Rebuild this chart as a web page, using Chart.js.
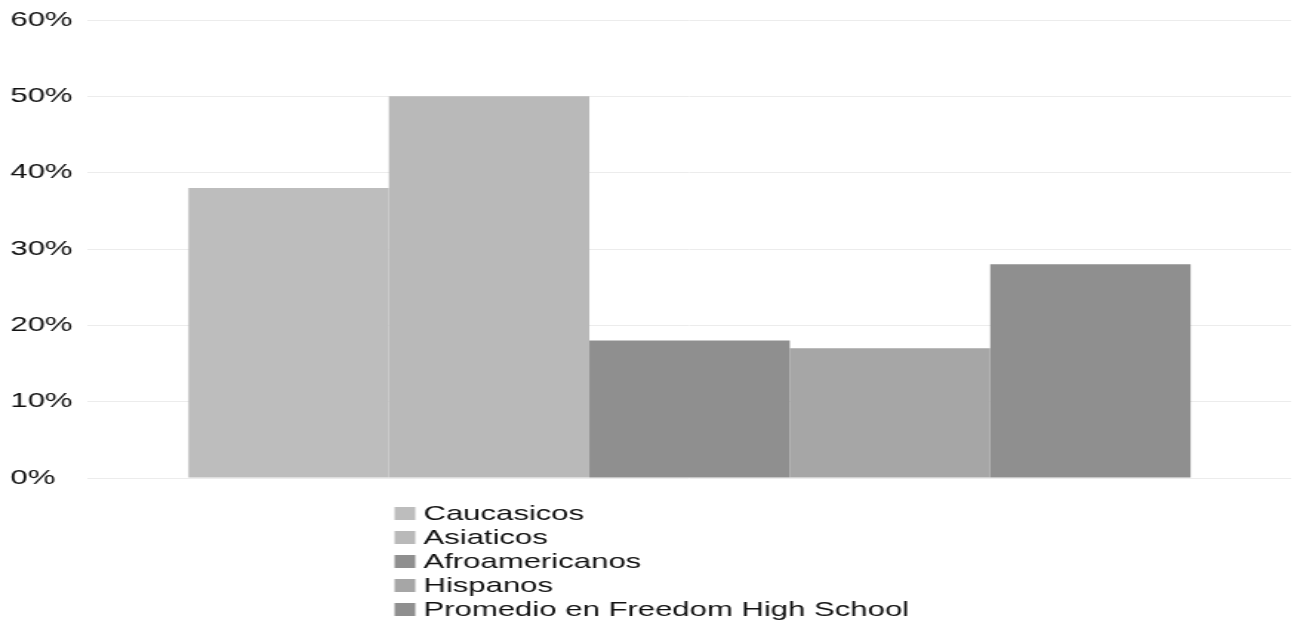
<!DOCTYPE html>
<html>
<head>
<meta charset="utf-8">
<script src="https://cdn.jsdelivr.net/npm/chart.js@4/dist/chart.umd.min.js"></script>
<style>
  html, body { margin: 0; padding: 0; background: #ffffff; overflow: hidden; }
  #wrap { width: 874px; height: 631px; transform: scaleX(1.4806); transform-origin: 0 0; }
  canvas { display: block; }
</style>
</head>
<body>
<div id="wrap"><canvas id="chart" width="874" height="631"></canvas></div>
<script>
// Single category, one bar per group
const categories = [''];
const seriesNames = ['Caucasicos', 'Asiaticos', 'Afroamericanos', 'Hispanos', 'Promedio en Freedom High School'];
const seriesValues = [38, 50, 18, 17, 28];
const seriesColors = ['#bdbdbd', '#b9b9b9', '#8f8f8f', '#a6a6a6', '#8f8f8f'];
const yMin = 0;
const yMax = 60;
const yStep = 10;

const FONT = '"Liberation Sans", Arial, sans-serif';

const datasets = seriesNames.map((name, i) => ({
  label: name,
  data: [seriesValues[i]],
  backgroundColor: seriesColors[i],
  borderWidth: 0,
  categoryPercentage: 0.833,
  barPercentage: 1.0
}));

// Vertical, left-aligned legend drawn under the plot
const stackedLegend = {
  id: 'stackedLegend',
  afterDraw(chart, args, opts) {
    const ctx = chart.ctx;
    ctx.save();
    ctx.font = opts.fontSize + 'px ' + FONT;
    ctx.textBaseline = 'middle';
    ctx.textAlign = 'left';
    chart.data.datasets.forEach((ds, i) => {
      const cy = opts.top + i * opts.rowHeight;
      ctx.fillStyle = ds.backgroundColor;
      ctx.fillRect(opts.left, cy - opts.boxHeight / 2, opts.boxWidth, opts.boxHeight);
      ctx.fillStyle = opts.color;
      ctx.fillText(ds.label, opts.left + opts.boxWidth + opts.gap, cy + 1);
    });
    ctx.restore();
  }
};

new Chart(document.getElementById('chart'), {
  type: 'bar',
  data: { labels: categories, datasets: datasets },
  plugins: [stackedLegend],
  options: {
    responsive: false,
    animation: false,
    devicePixelRatio: 1,
    layout: { padding: { top: 20, left: 7, right: 2, bottom: 153 } },
    plugins: {
      legend: { display: false },
      tooltip: { enabled: false },
      stackedLegend: {
        left: 266.5, top: 513.5, rowHeight: 24,
        boxWidth: 14, boxHeight: 13, gap: 5.5,
        fontSize: 21, color: '#111111'
      }
    },
    scales: {
      x: {
        display: false
      },
      y: {
        min: yMin,
        max: yMax,
        border: { display: false },
        grid: { color: '#ececec', lineWidth: 1, drawTicks: false },
        ticks: {
          stepSize: yStep,
          padding: 5.2,
          crossAlign: 'far',
          color: '#111111',
          font: { family: FONT, size: 21 },
          callback: v => v + '%'
        }
      }
    }
  }
});
</script>
</body>
</html>
